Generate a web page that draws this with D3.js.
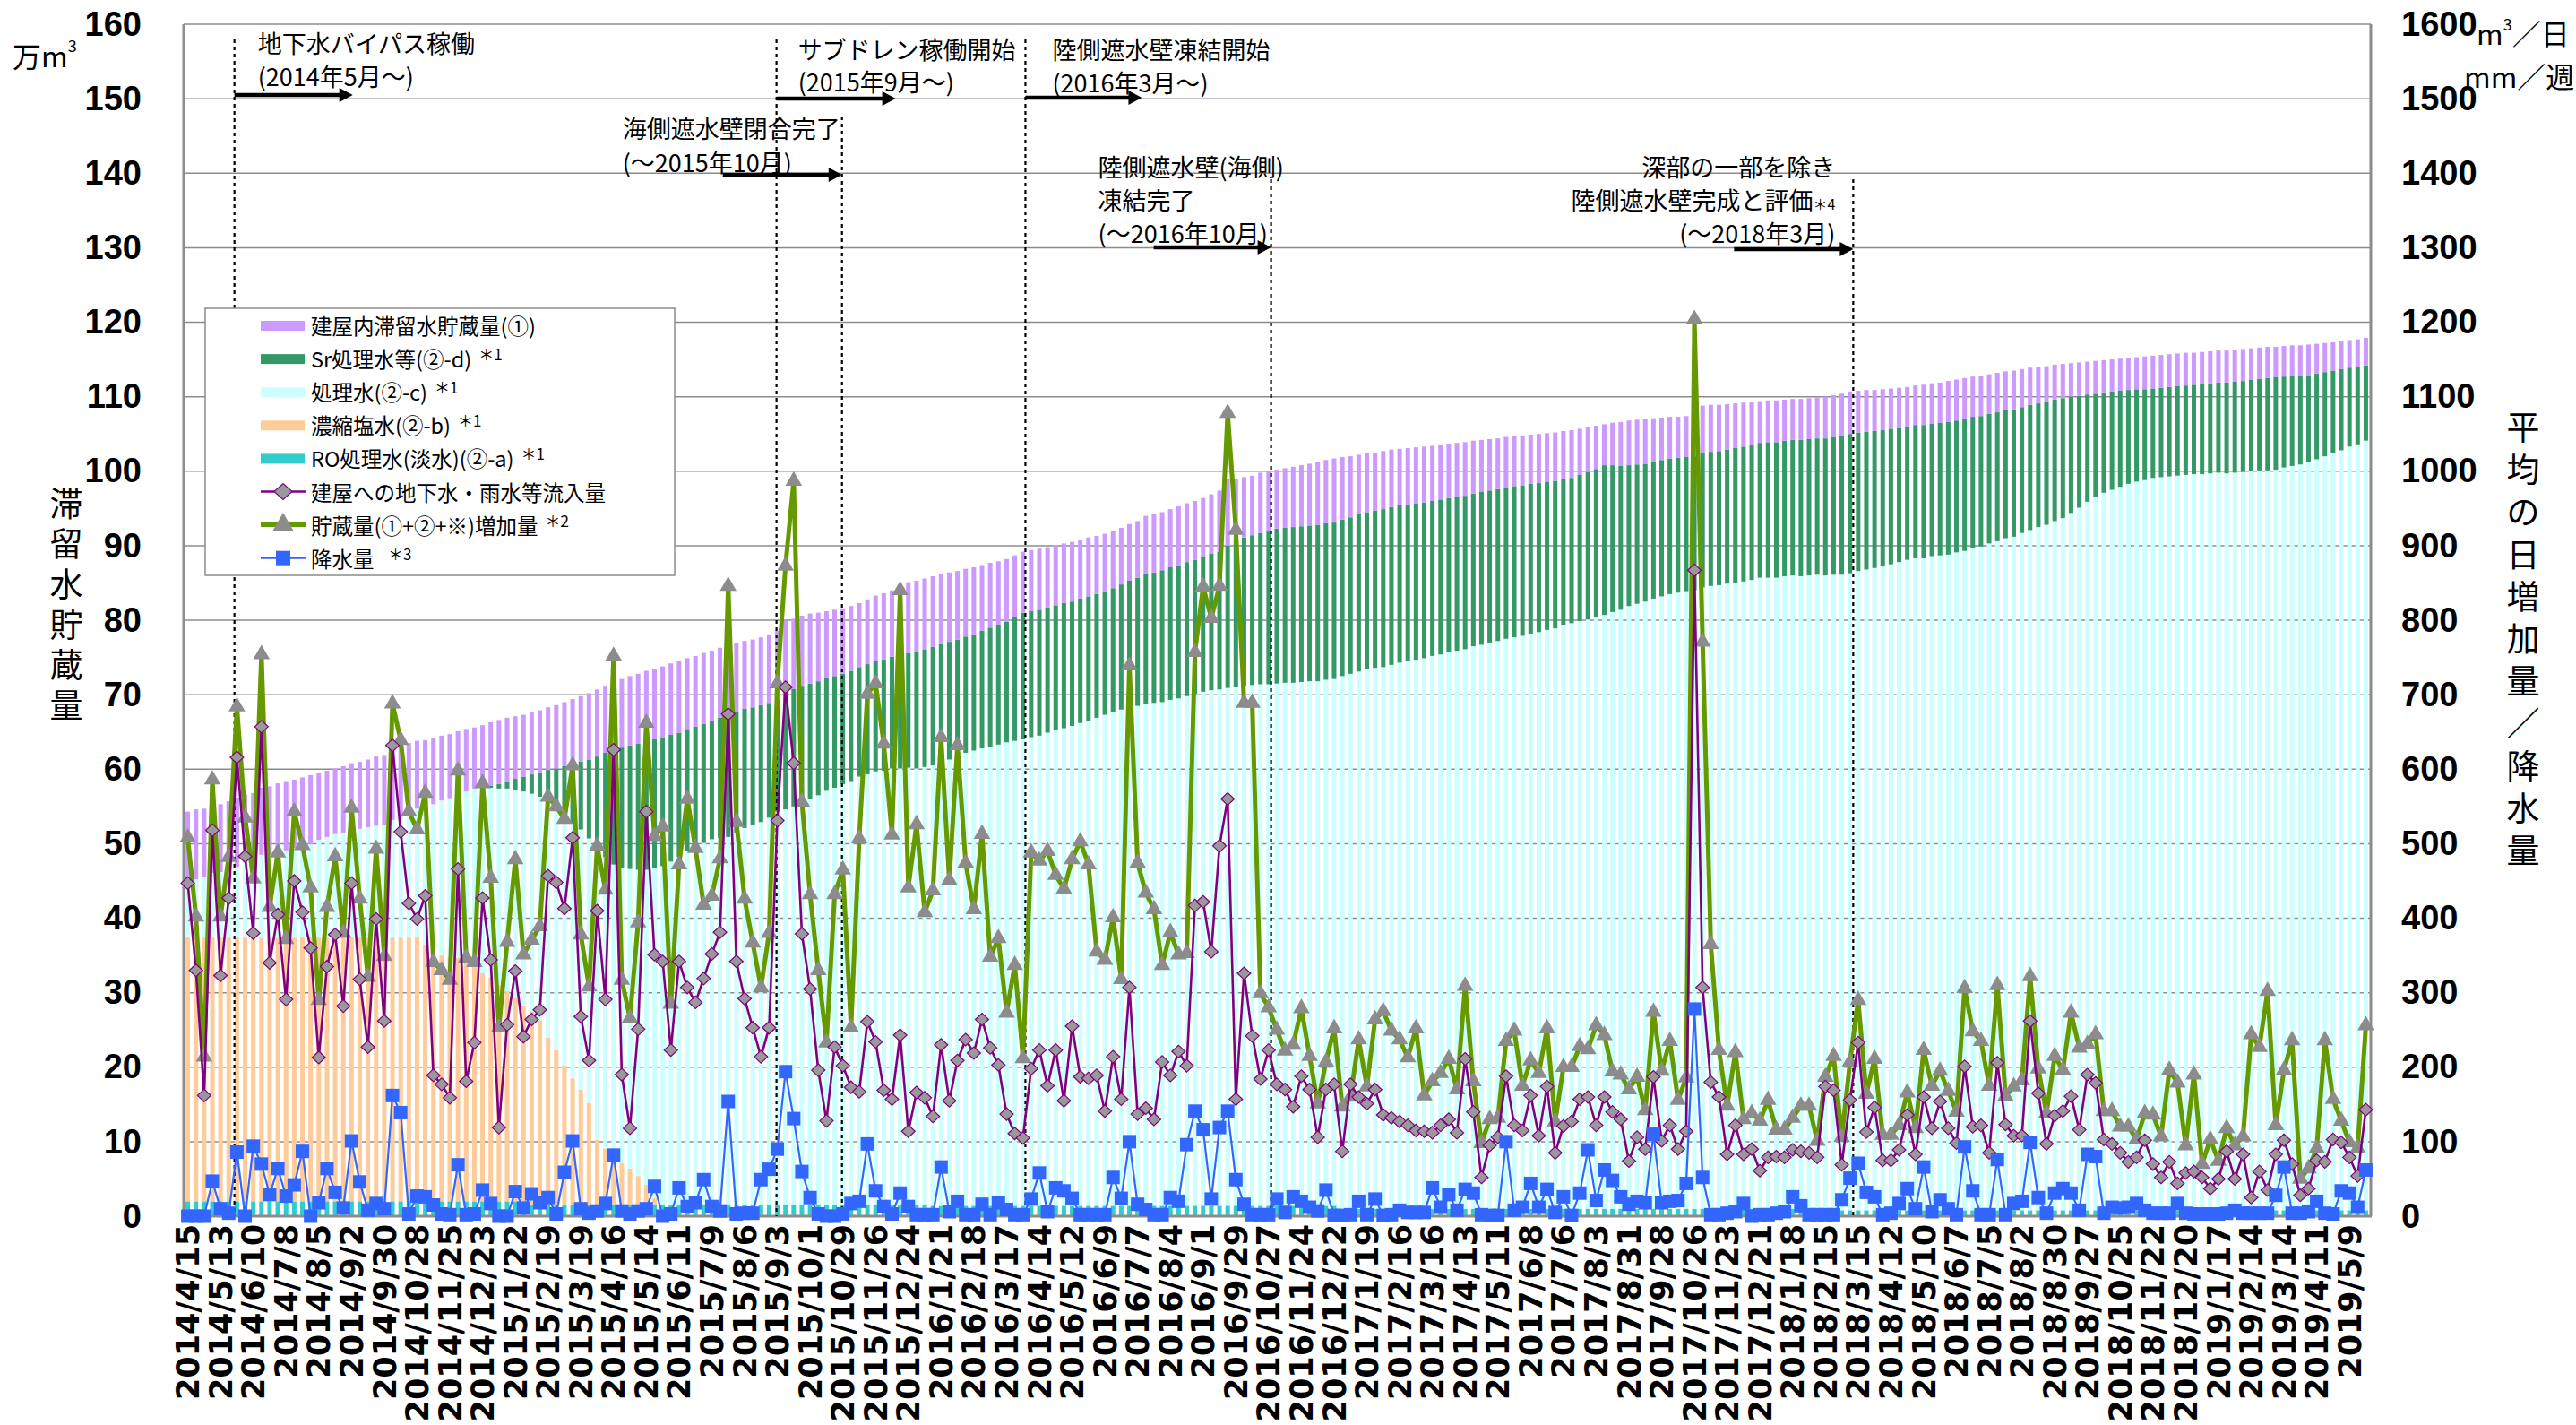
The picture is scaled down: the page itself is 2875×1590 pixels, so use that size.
<!DOCTYPE html>
<html>
  <head>
    <meta charset="utf-8">
    <title>滞留水貯蔵量と日増加量の推移</title>
    <script src="https://d3js.org/d3.v7.min.js"></script>
  </head>
  <style>
    body { margin: 0; background: #fff; }
    .jp { font-family: "Noto Sans CJK JP", sans-serif; }
    .grid-line { stroke: #8c8c8c; stroke-width: 1.5px; }
  </style>
  <body>
    <script>
      // one category per week; a date label every 4 weeks
      const tickLabels = [
        "2014/4/15", "2014/5/13", "2014/6/10", "2014/7/8", "2014/8/5", "2014/9/2", "2014/9/30", "2014/10/28", "2014/11/25", "2014/12/23",
        "2015/1/22", "2015/2/19", "2015/3/19", "2015/4/16", "2015/5/14", "2015/6/11", "2015/7/9", "2015/8/6", "2015/9/3", "2015/10/1",
        "2015/10/29", "2015/11/26", "2015/12/24", "2016/1/21", "2016/2/18", "2016/3/17", "2016/4/14", "2016/5/12", "2016/6/9", "2016/7/7",
        "2016/8/4", "2016/9/1", "2016/9/29", "2016/10/27", "2016/11/24", "2016/12/22", "2017/1/19", "2017/2/16", "2017/3/16", "2017/4/13",
        "2017/5/11", "2017/6/8", "2017/7/6", "2017/8/3", "2017/8/31", "2017/9/28", "2017/10/26", "2017/11/23", "2017/12/21", "2018/1/18",
        "2018/2/15", "2018/3/15", "2018/4/12", "2018/5/10", "2018/6/7", "2018/7/5", "2018/8/2", "2018/8/30", "2018/9/27", "2018/10/25",
        "2018/11/22", "2018/12/20", "2019/1/17", "2019/2/14", "2019/3/14", "2019/4/11", "2019/5/9"
      ];

      // 建屋内滞留水貯蔵量(①)  万m3
      const buildingWater = [
        9.5, 9.4, 9.2, 9.0, 9.1, 9.2, 9.3, 9.0, 8.7, 9.0,
        9.1, 9.2, 9.3, 9.2, 9.3, 9.3, 9.0, 8.9, 8.8, 8.9,
        8.8, 9.0, 9.1, 9.3, 9.4, 9.5, 9.4, 9.3, 9.1, 9.0,
        8.9, 8.7, 8.6, 8.5, 8.4, 8.2, 8.4, 8.5, 8.6, 8.5,
        8.4, 8.3, 8.3, 8.3, 8.4, 8.5, 8.6, 8.7, 8.8, 8.9,
        9.0, 9.0, 9.1, 9.2, 9.3, 9.4, 9.5, 9.5, 9.6, 9.6,
        9.6, 9.5, 9.5, 9.5, 9.5, 9.4, 9.5, 9.3, 9.1, 9.1,
        9.1, 9.2, 9.3, 9.4, 9.4, 9.4, 9.4, 9.2, 9.0, 8.9,
        8.8, 8.7, 8.6, 8.7, 8.8, 8.9, 8.9, 9.2, 9.5, 9.6,
        9.5, 9.5, 9.4, 9.3, 9.2, 9.1, 9.0, 8.8, 8.7, 8.5,
        8.4, 8.3, 8.2, 8.2, 8.2, 8.1, 8.1, 8.0, 8.0, 7.9,
        7.9, 7.8, 7.7, 7.7, 7.6, 7.6, 7.6, 7.8, 7.8, 7.8,
        7.8, 7.9, 7.9, 7.9, 7.9, 8.0, 8.2, 8.9, 8.3, 8.1,
        8.0, 8.1, 8.2, 7.9, 8.0, 8.1, 8.2, 8.3, 8.4, 8.5,
        8.6, 8.4, 8.2, 8.0, 7.9, 7.8, 7.8, 7.7, 7.6, 7.6,
        7.5, 7.5, 7.4, 7.4, 7.3, 7.3, 7.2, 7.1, 7.0, 6.9,
        6.8, 6.8, 6.7, 6.7, 6.6, 6.6, 6.5, 6.5, 6.4, 6.4,
        6.2, 6.0, 5.8, 5.5, 5.7, 5.9, 6.0, 6.0, 6.0, 5.8,
        5.7, 5.6, 5.5, 5.5, 6.0, 6.4, 6.3, 6.2, 6.1, 6.0,
        5.9, 5.8, 5.6, 5.6, 5.6, 5.5, 5.5, 5.5, 5.5, 5.5,
        5.6, 5.6, 5.7, 5.7, 5.6, 5.6, 5.5, 5.5, 5.4, 5.4,
        5.3, 5.3, 5.4, 5.4, 5.4, 5.5, 5.5, 5.5, 5.4, 5.4,
        5.3, 5.3, 5.2, 5.2, 5.1, 5.0, 4.9, 4.8, 4.7, 4.6,
        4.5, 4.5, 4.4, 4.4, 4.3, 4.3, 4.3, 4.3, 4.3, 4.4,
        4.4, 4.4, 4.4, 4.4, 4.4, 4.3, 4.3, 4.3, 4.3, 4.3,
        4.3, 4.3, 4.2, 4.2, 4.2, 4.1, 4.1, 4.1, 4.1, 4.1,
        4.0, 3.9, 3.8, 3.7, 3.7, 3.7, 3.7
      ];

      // Sr処理水等(②-d)  万m3
      const srWater = [
        0, 0, 0, 0, 0, 0, 0, 0, 0, 0,
        0, 0, 0, 0, 0, 0, 0, 0, 0, 0,
        0, 0, 0, 0, 0, 0, 0, 0, 0, 0,
        0, 0, 0, 0, 0, 0, 0, 0.3, 0.6, 1.0,
        1.5, 2.0, 2.6, 3.3, 4.2, 5.5, 6.8, 8.0, 9.1, 10.6,
        12.2, 14.0, 15.5, 16.2, 16.6, 16.9, 17.2, 17.3, 17.2, 17.0,
        16.7, 16.4, 16.2, 16.0, 15.8, 16.1, 16.5, 16.2, 16.0, 15.8,
        15.7, 15.4, 15.0, 15.9, 15.8, 15.6, 15.5, 15.3, 15.1, 15.0,
        14.8, 14.8, 14.7, 14.8, 14.8, 14.9, 15.0, 15.2, 15.4, 15.6,
        15.8, 15.9, 16.0, 15.8, 15.7, 15.6, 15.6, 15.8, 16.0, 16.1,
        16.2, 16.6, 17.0, 16.9, 16.9, 16.8, 16.8, 16.8, 16.7, 16.7,
        16.7, 16.6, 16.6, 16.6, 16.8, 17.0, 17.2, 17.4, 17.5, 17.7,
        17.8, 17.9, 18.0, 18.0, 18.1, 18.3, 18.5, 19.1, 19.6, 19.9,
        20.1, 20.3, 20.5, 20.8, 20.8, 20.9, 20.9, 20.9, 21.0, 21.0,
        21.0, 21.0, 21.0, 21.1, 21.1, 21.1, 21.2, 21.2, 21.1, 21.0,
        21.0, 20.9, 20.8, 20.8, 20.7, 20.6, 20.6, 20.5, 20.5, 20.4,
        20.4, 20.3, 20.3, 20.2, 20.1, 20.0, 19.9, 19.8, 19.6, 19.5,
        19.6, 19.8, 19.9, 20.1, 19.7, 19.3, 18.9, 18.7, 18.5, 18.4,
        18.3, 18.2, 18.1, 18.0, 18.0, 18.0, 18.0, 18.0, 18.0, 18.1,
        18.1, 18.1, 18.1, 18.2, 18.2, 18.2, 18.2, 18.3, 18.3, 18.3,
        18.4, 18.5, 18.6, 18.7, 18.6, 18.5, 18.4, 18.3, 18.2, 18.0,
        17.9, 17.9, 17.9, 17.8, 17.8, 17.8, 17.7, 17.7, 17.6, 17.5,
        17.4, 17.3, 17.2, 17.1, 16.9, 16.8, 16.6, 16.5, 16.3, 16.1,
        15.6, 15.0, 14.4, 13.8, 13.5, 13.2, 12.9, 12.6, 12.4, 12.2,
        12.0, 12.0, 12.0, 12.0, 12.0, 12.0, 12.1, 12.1, 12.1, 12.2,
        12.2, 12.2, 12.3, 12.3, 12.4, 12.4, 12.2, 12.1, 11.9, 11.7,
        11.5, 11.3, 11.1, 10.9, 10.6, 10.4, 10.1
      ];

      // 処理水(②-c)  万m3
      const treatedWater = [
        7.4, 7.8, 8.1, 8.7, 8.8, 9.1, 9.5, 10.2, 10.7, 11.1,
        11.2, 11.5, 11.7, 12.0, 12.2, 12.5, 13.1, 13.5, 13.9, 14.1,
        14.6, 14.6, 14.8, 15.0, 15.1, 15.8, 16.2, 16.8, 17.3, 18.4,
        20.0, 20.8, 21.3, 21.9, 22.6, 23.9, 24.9, 25.5, 26.3, 27.2,
        27.9, 28.7, 29.2, 30.0, 31.7, 32.3, 33.4, 34.2, 34.9, 35.5,
        39.2, 39.1, 39.1, 39.6, 40.2, 41.1, 42.3, 44.3, 45.4, 46.0,
        46.6, 47.4, 47.9, 48.5, 49.0, 49.2, 49.3, 49.9, 50.5, 50.9,
        51.3, 51.9, 52.7, 53.0, 53.4, 54.0, 54.4, 54.9, 55.5, 55.9,
        56.4, 56.8, 57.4, 57.7, 58.1, 58.2, 58.5, 58.5, 58.6, 58.5,
        58.7, 59.1, 59.4, 59.9, 60.3, 60.8, 61.1, 61.4, 61.6, 61.9,
        62.2, 62.4, 62.6, 62.9, 63.1, 63.5, 63.8, 64.1, 64.4, 64.8,
        65.1, 65.5, 65.9, 66.3, 66.6, 66.9, 67.1, 67.4, 67.5, 67.6,
        67.9, 68.1, 68.4, 68.7, 69.0, 69.2, 69.3, 69.5, 69.7, 69.8,
        69.9, 70.0, 70.0, 70.1, 70.2, 70.2, 70.3, 70.4, 70.4, 70.6,
        70.7, 71.5, 71.8, 72.1, 72.4, 72.6, 72.7, 73.0, 73.3, 73.5,
        73.7, 73.9, 74.2, 74.4, 74.7, 74.9, 75.1, 75.5, 75.7, 76.0,
        76.2, 76.5, 76.7, 76.9, 77.2, 77.4, 77.7, 77.9, 78.4, 78.6,
        78.9, 79.1, 79.4, 79.7, 80.1, 80.4, 80.9, 81.2, 81.5, 81.9,
        82.2, 82.5, 82.7, 82.9, 83.0, 83.4, 83.6, 83.7, 83.9, 84.0,
        84.2, 84.4, 84.7, 84.7, 84.7, 84.9, 85.0, 84.9, 85.0, 85.1,
        85.0, 85.3, 85.3, 85.5, 85.8, 86.0, 86.2, 86.4, 86.7, 87.0,
        87.3, 87.5, 87.5, 87.8, 87.9, 88.0, 88.3, 88.5, 88.9, 89.1,
        89.5, 89.8, 90.2, 90.4, 90.9, 91.3, 91.7, 92.0, 92.5, 92.9,
        93.6, 94.3, 95.1, 95.8, 96.3, 96.7, 97.1, 97.5, 97.8, 98.0,
        98.3, 98.4, 98.5, 98.6, 98.7, 98.8, 98.8, 98.9, 99.0, 98.9,
        99.0, 99.1, 99.2, 99.3, 99.3, 99.4, 99.7, 99.9, 100.1, 100.4,
        100.8, 101.2, 101.6, 102.0, 102.5, 102.8, 103.3
      ];

      // 濃縮塩水(②-b)  万m3
      const brineWater = [
        35.4, 35.4, 35.4, 35.4, 35.4, 35.4, 35.4, 35.4, 35.4, 35.4,
        35.4, 35.4, 35.4, 35.4, 35.4, 35.4, 35.4, 35.4, 35.4, 35.4,
        35.4, 35.4, 35.4, 35.4, 35.4, 35.4, 35.4, 35.4, 35.4, 34.5,
        33.3, 33.0, 32.8, 32.7, 32.4, 31.5, 30.6, 30.0, 29.1, 28.2,
        27.3, 26.7, 25.9, 24.7, 22.4, 20.7, 18.6, 16.9, 15.4, 13.6,
        8.7, 7.5, 6.5, 5.5, 4.8, 3.8, 2.6, 0.8, 0, 0,
        0, 0, 0, 0, 0, 0, 0, 0, 0, 0,
        0, 0, 0, 0, 0, 0, 0, 0, 0, 0,
        0, 0, 0, 0, 0, 0, 0, 0, 0, 0,
        0, 0, 0, 0, 0, 0, 0, 0, 0, 0,
        0, 0, 0, 0, 0, 0, 0, 0, 0, 0,
        0, 0, 0, 0, 0, 0, 0, 0, 0, 0,
        0, 0, 0, 0, 0, 0, 0, 0, 0, 0,
        0, 0, 0, 0, 0, 0, 0, 0, 0, 0,
        0, 0, 0, 0, 0, 0, 0, 0, 0, 0,
        0, 0, 0, 0, 0, 0, 0, 0, 0, 0,
        0, 0, 0, 0, 0, 0, 0, 0, 0, 0,
        0, 0, 0, 0, 0, 0, 0, 0, 0, 0,
        0, 0, 0, 0, 0, 0, 0, 0, 0, 0,
        0, 0, 0, 0, 0, 0, 0, 0, 0, 0,
        0, 0, 0, 0, 0, 0, 0, 0, 0, 0,
        0, 0, 0, 0, 0, 0, 0, 0, 0, 0,
        0, 0, 0, 0, 0, 0, 0, 0, 0, 0,
        0, 0, 0, 0, 0, 0, 0, 0, 0, 0,
        0, 0, 0, 0, 0, 0, 0, 0, 0, 0,
        0, 0, 0, 0, 0, 0, 0, 0, 0, 0,
        0, 0, 0, 0, 0, 0, 0
      ];

      // RO処理水(淡水)(②-a)  万m3
      const roWater = [
        2.0, 2.0, 2.0, 2.0, 2.0, 2.0, 2.0, 2.0, 2.0, 2.0,
        2.0, 2.0, 2.0, 2.0, 2.0, 2.0, 2.0, 2.0, 2.0, 2.0,
        2.0, 2.0, 2.0, 2.0, 2.0, 2.0, 2.0, 2.0, 2.0, 2.0,
        2.0, 2.0, 2.0, 2.0, 2.0, 2.0, 2.0, 2.0, 2.0, 2.0,
        2.0, 1.6, 1.6, 1.6, 1.6, 1.6, 1.6, 1.6, 1.6, 1.6,
        1.6, 1.6, 1.6, 1.6, 1.6, 1.6, 1.6, 1.6, 1.6, 1.6,
        1.6, 1.6, 1.6, 1.6, 1.6, 1.6, 1.6, 1.6, 1.6, 1.6,
        1.6, 1.6, 1.6, 1.6, 1.6, 1.6, 1.6, 1.6, 1.6, 1.6,
        1.6, 1.6, 1.6, 1.6, 1.6, 1.6, 1.6, 1.6, 1.6, 1.6,
        1.6, 1.4, 1.4, 1.4, 1.4, 1.4, 1.4, 1.4, 1.4, 1.4,
        1.4, 1.4, 1.4, 1.4, 1.4, 1.4, 1.4, 1.4, 1.4, 1.4,
        1.4, 1.4, 1.4, 1.4, 1.4, 1.4, 1.4, 1.4, 1.4, 1.4,
        1.4, 1.4, 1.4, 1.4, 1.4, 1.4, 1.4, 1.4, 1.4, 1.4,
        1.4, 1.4, 1.4, 1.4, 1.4, 1.4, 1.4, 1.4, 1.4, 1.4,
        1.4, 1.0, 1.0, 1.0, 1.0, 1.0, 1.0, 1.0, 1.0, 1.0,
        1.0, 1.0, 1.0, 1.0, 1.0, 1.0, 1.0, 1.0, 1.0, 1.0,
        1.0, 1.0, 1.0, 1.0, 1.0, 1.0, 1.0, 1.0, 1.0, 1.0,
        1.0, 1.0, 1.0, 1.0, 1.0, 1.0, 1.0, 1.0, 1.0, 1.0,
        1.0, 1.0, 1.0, 1.0, 1.0, 1.0, 1.0, 1.0, 1.0, 1.0,
        1.0, 1.0, 1.0, 1.0, 1.0, 1.0, 1.0, 1.0, 1.0, 1.0,
        1.0, 0.8, 0.8, 0.8, 0.8, 0.8, 0.8, 0.8, 0.8, 0.8,
        0.8, 0.8, 0.8, 0.8, 0.8, 0.8, 0.8, 0.8, 0.8, 0.8,
        0.8, 0.8, 0.8, 0.8, 0.8, 0.8, 0.8, 0.8, 0.8, 0.8,
        0.8, 0.8, 0.8, 0.8, 0.8, 0.8, 0.8, 0.8, 0.8, 0.8,
        0.8, 0.8, 0.8, 0.8, 0.8, 0.8, 0.8, 0.8, 0.8, 0.8,
        0.8, 0.8, 0.8, 0.8, 0.8, 0.8, 0.8, 0.8, 0.8, 0.8,
        0.8, 0.8, 0.8, 0.8, 0.8, 0.8, 0.8
      ];

      // 建屋への地下水・雨水等流入量  m3/日
      const inflow = [
        447, 330, 162, 518, 323, 427, 616, 483, 380, 657,
        340, 405, 291, 450, 408, 360, 213, 335, 378, 282,
        447, 318, 227, 399, 262, 632, 516, 420, 399, 430,
        189, 177, 159, 466, 181, 233, 427, 344, 119, 257,
        329, 241, 264, 277, 457, 448, 413, 508, 268, 209,
        410, 291, 626, 190, 118, 251, 543, 351, 342, 223,
        342, 307, 287, 319, 352, 381, 674, 342, 292, 253,
        214, 253, 531, 710, 608, 379, 305, 196, 128, 227,
        202, 173, 167, 261, 234, 169, 157, 243, 114, 166,
        159, 134, 230, 155, 209, 237, 219, 264, 226, 203,
        137, 111, 105, 198, 223, 175, 223, 155, 255, 187,
        185, 189, 141, 214, 157, 307, 137, 145, 130, 207,
        189, 221, 202, 417, 422, 355, 497, 560, 157, 326,
        242, 184, 223, 177, 170, 147, 188, 170, 106, 170,
        177, 87, 177, 160, 151, 170, 136, 132, 127, 122,
        115, 114, 112, 122, 130, 112, 211, 140, 52, 95,
        106, 188, 122, 115, 162, 108, 174, 85, 121, 127,
        157, 160, 122, 160, 140, 130, 74, 106, 90, 187,
        101, 122, 90, 114, 867, 307, 180, 160, 83, 122,
        83, 90, 61, 79, 80, 79, 89, 87, 85, 79,
        174, 169, 69, 156, 233, 113, 146, 75, 75, 89,
        136, 83, 160, 118, 154, 118, 98, 201, 120, 122,
        85, 206, 123, 108, 108, 262, 165, 97, 135, 141,
        161, 116, 190, 179, 103, 97, 85, 73, 79, 102,
        70, 52, 73, 44, 58, 60, 52, 37, 50, 87,
        50, 83, 25, 60, 35, 83, 102, 70, 28, 37,
        75, 73, 103, 99, 79, 54, 143
      ];

      // 貯蔵量(①+②+※)増加量  m3/日
      const storageIncrease = [
        508, 402, 214, 586, 402, 482, 684, 535, 453, 754,
        415, 488, 372, 543, 498, 441, 290, 415, 483, 380,
        548, 426, 321, 493, 349, 688, 639, 543, 519, 568,
        341, 330, 317, 598, 347, 341, 581, 454, 253, 368,
        479, 351, 371, 389, 563, 550, 533, 605, 378, 308,
        497, 438, 752, 317, 266, 394, 662, 510, 523, 285,
        472, 560, 494, 418, 430, 480, 846, 529, 426, 367,
        307, 380, 715, 873, 987, 556, 432, 330, 233, 432,
        465, 253, 507, 701, 715, 634, 512, 840, 441, 526,
        408, 437, 643, 451, 632, 474, 412, 513, 348, 373,
        273, 337, 212, 488, 477, 490, 458, 439, 479, 503,
        472, 355, 344, 401, 318, 739, 474, 434, 412, 337,
        381, 351, 353, 757, 845, 803, 846, 1078, 921, 689,
        689, 299, 280, 250, 222, 230, 279, 215, 151, 207,
        252, 147, 160, 237, 174, 264, 275, 249, 237, 213,
        252, 162, 181, 192, 211, 170, 309, 181, 98, 130,
        132, 235, 249, 175, 209, 192, 252, 127, 200, 200,
        228, 224, 256, 243, 194, 190, 170, 187, 142, 274,
        195, 235, 156, 186, 1204, 771, 365, 223, 148, 220,
        130, 138, 128, 156, 116, 116, 132, 148, 148, 101,
        187, 215, 106, 207, 290, 164, 211, 109, 109, 122,
        166, 118, 223, 175, 195, 168, 140, 306, 248, 235,
        175, 310, 161, 174, 182, 322, 198, 138, 215, 196,
        273, 226, 231, 244, 141, 141, 120, 120, 103, 138,
        136, 107, 196, 179, 95, 190, 70, 103, 74, 118,
        95, 107, 244, 227, 302, 122, 196, 236, 50, 64,
        91, 236, 157, 128, 99, 91, 256
      ];

      // 降水量  mm/週
      const rainfall = [
        0, 0, 0, 47, 10, 4, 86, 0, 94, 70,
        29, 64, 27, 42, 87, 0, 18, 64, 32, 11,
        101, 46, 8, 17, 10, 162, 139, 3, 27, 26,
        15, 3, 2, 69, 2, 3, 35, 17, 0, 0,
        33, 11, 30, 18, 25, 3, 59, 101, 10, 4,
        7, 17, 82, 7, 3, 7, 10, 40, 0, 3,
        38, 13, 18, 49, 13, 7, 154, 3, 4, 4,
        49, 63, 90, 194, 131, 60, 25, 3, 0, 0,
        3, 17, 20, 97, 34, 13, 3, 31, 13, 2,
        2, 2, 66, 6, 20, 2, 2, 16, 2, 18,
        9, 2, 2, 23, 58, 6, 38, 34, 24, 2,
        2, 2, 2, 52, 24, 100, 16, 9, 2, 2,
        25, 20, 96, 141, 116, 23, 119, 141, 49, 16,
        2, 2, 2, 23, 5, 26, 20, 12, 7, 35,
        1, 1, 2, 20, 2, 23, 1, 2, 8, 5,
        5, 5, 38, 12, 29, 8, 36, 31, 2, 1,
        1, 100, 8, 12, 44, 12, 36, 5, 26, 1,
        31, 89, 21, 62, 48, 26, 16, 20, 18, 110,
        18, 20, 21, 44, 278, 52, 2, 2, 4, 6,
        17, 0, 2, 2, 4, 6, 26, 14, 2, 2,
        2, 2, 22, 51, 71, 32, 26, 2, 4, 17,
        37, 10, 66, 6, 22, 10, 2, 93, 34, 2,
        2, 76, 2, 17, 20, 99, 25, 4, 31, 37,
        31, 8, 83, 80, 4, 12, 11, 12, 17, 8,
        4, 4, 4, 17, 4, 3, 3, 3, 3, 4,
        8, 4, 4, 4, 4, 28, 66, 4, 4, 6,
        20, 4, 3, 34, 31, 12, 62
      ];

      // countermeasures, placed by week index
      const events = [
        {week: 5.7, lines: ["地下水バイパス稼働", "(2014年5月～)"]},
        {week: 71.9, lines: ["サブドレン稼働開始", "(2015年9月～)"]},
        {week: 102.3, lines: ["陸側遮水壁凍結開始", "(2016年3月～)"]},
        {week: 79.9, lines: ["海側遮水壁閉合完了", "(～2015年10月)"]},
        {week: 132.3, lines: ["陸側遮水壁(海側)", "凍結完了", "(～2016年10月)"]},
        {week: 203.4, lines: ["深部の一部を除き", "陸側遮水壁完成と評価", "(～2018年3月)"]}
      ];

      const chartWidth = 2875;
      const chartHeight = 1590;
      const plot = {left: 205, right: 2645, top: 27, bottom: 1357};

      const svg = d3.select("body")
        .append("svg")
          .attr("width", chartWidth)
          .attr("height", chartHeight)
          .style("background", "#fff");

      const weeks = d3.range(inflow.length);

      const x = d3.scaleBand()
        .domain(weeks)
        .range([plot.left, plot.right])
        .paddingInner(0.45)
        .paddingOuter(0.225);

      const xPos = d3.scaleLinear()
        .domain([-0.5, weeks.length - 0.5])
        .range([plot.left, plot.right]);

      const yLeft = d3.scaleLinear().domain([0, 160]).range([plot.bottom, plot.top]);
      const yRight = d3.scaleLinear().domain([0, 1600]).range([plot.bottom, plot.top]);

      // grid
      svg.append("g")
        .selectAll("line")
        .data(d3.range(10, 161, 10))
        .enter()
        .append("line")
          .classed("grid-line", true)
          .attr("x1", plot.left)
          .attr("x2", plot.right + 1)
          .attr("y1", d => yLeft(d))
          .attr("y2", d => yLeft(d));

      // stacked bars
      const stackColors = {
        ro: "#33cccc",
        brine: "#ffcc99",
        treated: "#ccffff",
        sr: "#339966",
        building: "#cc99ff"
      };

      const rows = weeks.map(i => ({
        ro: roWater[i],
        brine: brineWater[i],
        treated: treatedWater[i],
        sr: srWater[i],
        building: buildingWater[i]
      }));

      const series = d3.stack()
        .keys(["ro", "brine", "treated", "sr", "building"])(rows);

      svg.append("g")
          .classed("stack-bar", true)
        .selectAll("g")
        .data(series)
        .enter()
        .append("g")
          .attr("fill", d => stackColors[d.key])
        .selectAll("rect")
        .data(d => d)
        .enter()
        .append("rect")
          .attr("x", (d, i) => x(i))
          .attr("width", x.bandwidth())
          .attr("y", d => yLeft(d[1]))
          .attr("height", d => yLeft(d[0]) - yLeft(d[1]));

      // axis frame
      svg.append("line")
        .attr("x1", plot.left).attr("x2", plot.left)
        .attr("y1", plot.top).attr("y2", plot.bottom)
        .attr("stroke", "#8c8c8c").attr("stroke-width", 3);
      svg.append("line")
        .attr("x1", plot.right + 1).attr("x2", plot.right + 1)
        .attr("y1", plot.top).attr("y2", plot.bottom)
        .attr("stroke", "#8c8c8c").attr("stroke-width", 3);
      svg.append("line")
        .attr("x1", plot.left).attr("x2", plot.right + 2)
        .attr("y1", plot.bottom).attr("y2", plot.bottom)
        .attr("stroke", "#8c8c8c").attr("stroke-width", 3);

      // event markers
      const eventLayout = [
        {top: 44, dx: 26, anchor: "start", ys: [47, 84], arrowY: 106, from: 0, to: 132},
        {top: 44, dx: 24, anchor: "start", ys: [54, 90], arrowY: 110, from: 0, to: 133},
        {top: 44, dx: 30, anchor: "start", ys: [54, 91], arrowY: 109, from: 0, to: 130},
        {top: 130, dx: -245, anchor: "start", ys: [142, 180], arrowY: 195, from: -133, to: 0},
        {top: 200, dx: -193, anchor: "start", ys: [185, 222, 259], arrowY: 276, from: -131, to: 0},
        {top: 200, dx: -20, anchor: "end", ys: [185, 222, 259], arrowY: 278, from: -133, to: 0}
      ];

      const eventGroup = svg.append("g").classed("events", true);

      events.forEach(function(ev, k) {
        const lay = eventLayout[k];
        const ex = xPos(ev.week);

        eventGroup.append("line")
          .attr("x1", ex).attr("x2", ex)
          .attr("y1", lay.top).attr("y2", plot.bottom)
          .attr("stroke", "#000")
          .attr("stroke-width", 2.2)
          .attr("stroke-dasharray", "4,4");

        const label = eventGroup.append("text")
          .classed("jp", true)
          .attr("font-size", 27)
          .attr("text-anchor", lay.anchor);

        ev.lines.forEach(function(line, j) {
          label.append("tspan")
            .attr("x", ex + lay.dx)
            .attr("y", lay.ys[j])
            .attr("dominant-baseline", "central")
            .text(line);
          if (k === 5 && j === 1) {
            label.append("tspan")
              .attr("dominant-baseline", "central")
              .attr("font-size", 16)
              .attr("dy", 5)
              .text("＊4");
          }
        });

        const x1 = ex + lay.from;
        const x2 = ex + lay.to;
        eventGroup.append("line")
          .attr("x1", x1).attr("x2", x2 - 12)
          .attr("y1", lay.arrowY).attr("y2", lay.arrowY)
          .attr("stroke", "#000")
          .attr("stroke-width", 4.5);
        eventGroup.append("path")
          .attr("d", `M${x2},${lay.arrowY} L${x2 - 15},${lay.arrowY - 8} L${x2 - 15},${lay.arrowY + 8} Z`)
          .attr("fill", "#000");
      });

      // lines
      function lineFor(values, scale) {
        return d3.line()
          .x((d, i) => xPos(i))
          .y(d => scale(d))(values);
      }

      svg.append("path")
        .attr("d", lineFor(storageIncrease, yRight))
        .attr("fill", "none")
        .attr("stroke", "#669900")
        .attr("stroke-width", 5)
        .attr("stroke-linejoin", "round");

      svg.append("g")
        .selectAll("path")
        .data(storageIncrease)
        .enter()
        .append("path")
          .attr("d", d3.symbol().type(d3.symbolTriangle).size(150))
          .attr("transform", (d, i) => `translate(${xPos(i)},${yRight(d)})`)
          .attr("fill", "#8c8c8c");

      const diamond = "M-7.5,0L0,-7L7.5,0L0,7Z";

      svg.append("path")
        .attr("d", lineFor(inflow, yRight))
        .attr("fill", "none")
        .attr("stroke", "#800080")
        .attr("stroke-width", 2.6);

      svg.append("g")
        .selectAll("path")
        .data(inflow)
        .enter()
        .append("path")
          .attr("d", diamond)
          .attr("transform", (d, i) => `translate(${xPos(i)},${yRight(d)})`)
          .attr("fill", "#999999")
          .attr("stroke", "#800080")
          .attr("stroke-width", 1.2);

      svg.append("path")
        .attr("d", lineFor(rainfall, yRight))
        .attr("fill", "none")
        .attr("stroke", "#3366ff")
        .attr("stroke-width", 2.2);

      svg.append("g")
        .selectAll("path")
        .data(rainfall)
        .enter()
        .append("path")
          .attr("d", d3.symbol().type(d3.symbolSquare).size(225))
          .attr("transform", (d, i) => `translate(${xPos(i)},${yRight(d)})`)
          .attr("fill", "#3366ff");

      // axes
      svg.append("g")
          .attr("transform", "translate(" + plot.left + ",0)")
          .call(d3.axisLeft(yLeft).tickValues(d3.range(0, 161, 10)).tickSize(0).tickPadding(47))
          .call(g => g.select(".domain").remove())
          .attr("font-family", "Liberation Sans, Arial, sans-serif")
          .attr("font-weight", "bold")
          .attr("font-size", 38);

      svg.append("g")
          .attr("transform", "translate(" + plot.right + ",0)")
          .call(d3.axisRight(yRight)
            .tickValues(d3.range(0, 1601, 100))
            .tickFormat(d3.format("d"))
            .tickSize(0)
            .tickPadding(35))
          .call(g => g.select(".domain").remove())
          .attr("font-family", "Liberation Sans, Arial, sans-serif")
          .attr("font-weight", "bold")
          .attr("font-size", 38);

      svg.append("g")
          .attr("transform", "translate(0," + plot.bottom + ")")
          .call(d3.axisBottom(x)
            .tickValues(d3.range(0, weeks.length, 4))
            .tickFormat(i => tickLabels[i / 4])
            .tickSize(0))
          .call(g => g.select(".domain").remove())
          .attr("font-family", "DejaVu Sans")
          .attr("font-weight", "bold")
          .attr("font-size", 35)
        .selectAll("text")
          .attr("transform", "rotate(-90)")
          .attr("x", -9)
          .attr("y", 0)
          .attr("dy", "0.36em")
          .attr("text-anchor", "end");

      // axis titles
      const unitLeft = svg.append("text")
        .classed("jp", true)
        .attr("x", 14)
        .attr("y", 61)
        .attr("dominant-baseline", "central")
        .attr("font-size", 32);
      unitLeft.append("tspan").text("万m");
      unitLeft.append("tspan").attr("font-size", 18).attr("dy", -11).text("3");

      const unitRight1 = svg.append("text")
        .classed("jp", true)
        .attr("x", 2764)
        .attr("y", 36)
        .attr("dominant-baseline", "central")
        .attr("font-size", 32);
      unitRight1.append("tspan").text("m");
      unitRight1.append("tspan").attr("font-size", 18).attr("dy", -10).text("3");
      unitRight1.append("tspan").attr("dy", 10).text("／日");

      svg.append("text")
        .classed("jp", true)
        .attr("x", 2750)
        .attr("y", 84)
        .attr("dominant-baseline", "central")
        .attr("font-size", 32)
        .text("mm／週");

      // stacked vertical titles, one text element each
      function verticalTitle(str, cx, startY, pitch) {
        svg.append("text")
            .classed("jp", true)
            .attr("text-anchor", "middle")
            .attr("font-size", 37)
          .selectAll("tspan")
          .data(Array.from(str))
          .enter()
          .append("tspan")
            .attr("x", cx)
            .attr("y", (d, i) => startY + i * pitch)
            .attr("dominant-baseline", "central")
            .text(d => d);
      }

      verticalTitle("滞留水貯蔵量", 74, 560, 45);
      verticalTitle("平均の日増加量／降水量", 2816, 475, 47.2);

      // legend
      const legend = svg.append("g").classed("legend", true);

      legend.append("rect")
        .attr("x", 229)
        .attr("y", 344)
        .attr("width", 524)
        .attr("height", 298)
        .attr("fill", "#fff")
        .attr("stroke", "#8c8c8c")
        .attr("stroke-width", 1.5);

      const legendItems = [
        {label: "建屋内滞留水貯蔵量(①)", note: "", kind: "bar", color: stackColors.building},
        {label: "Sr処理水等(②-d)", note: "＊1", kind: "bar", color: stackColors.sr},
        {label: "処理水(②-c)", note: "＊1", kind: "bar", color: stackColors.treated},
        {label: "濃縮塩水(②-b)", note: "＊1", kind: "bar", color: stackColors.brine},
        {label: "RO処理水(淡水)(②-a)", note: "＊1", kind: "bar", color: stackColors.ro},
        {label: "建屋への地下水・雨水等流入量", note: "", kind: "inflow"},
        {label: "貯蔵量(①+②+※)増加量", note: "＊2", kind: "storage"},
        {label: "降水量", note: "  ＊3", kind: "rain"}
      ];

      legendItems.forEach(function(item, k) {
        const cy = 363 + k * 37.1;
        if (item.kind === "bar") {
          legend.append("rect")
            .attr("x", 291).attr("y", cy - 5)
            .attr("width", 49).attr("height", 11)
            .attr("fill", item.color);
        } else {
          const color = item.kind === "inflow" ? "#800080" : item.kind === "storage" ? "#669900" : "#3366ff";
          const lw = item.kind === "inflow" ? 2.6 : item.kind === "storage" ? 5 : 2.2;
          legend.append("line")
            .attr("x1", 291).attr("x2", 341)
            .attr("y1", cy).attr("y2", cy)
            .attr("stroke", color).attr("stroke-width", lw);
          const marker = legend.append("path")
            .attr("transform", `translate(316,${cy})`);
          if (item.kind === "inflow") {
            marker.attr("d", "M-10,0L0,-9L10,0L0,9Z").attr("fill", "#999999")
              .attr("stroke", "#800080").attr("stroke-width", 1.2);
          } else if (item.kind === "storage") {
            marker.attr("d", d3.symbol().type(d3.symbolTriangle).size(240)).attr("fill", "#8c8c8c");
          } else {
            marker.attr("d", d3.symbol().type(d3.symbolSquare).size(256)).attr("fill", "#3366ff");
          }
        }
        const t = legend.append("text")
          .classed("jp", true)
          .attr("x", 347)
          .attr("y", cy)
          .attr("dominant-baseline", "central")
          .attr("font-size", 23.5)
          .text(item.label);
        if (item.note) {
          t.append("tspan")
            .attr("font-size", 17)
            .attr("dx", 8)
            .attr("dy", -6)
            .attr("xml:space", "preserve")
            .text(item.note);
        }
      });
    </script>
  </body>
</html>
